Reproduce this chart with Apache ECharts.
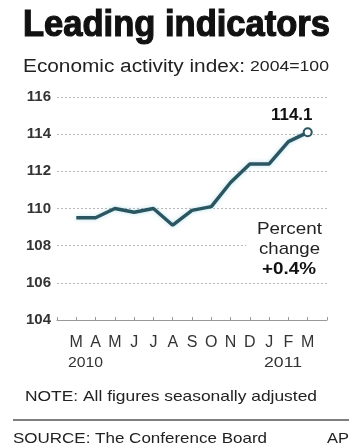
<!DOCTYPE html>
<html>
<head>
<meta charset="utf-8">
<script src="https://cdn.jsdelivr.net/npm/echarts@6/dist/echarts.min.js"></script>
<style>
html,body{margin:0;padding:0;background:#fff;}
#chart{width:357px;height:447px;}
</style>
</head>
<body>
<div id="chart"></div>
<script>
// Data
const months = ['M','A','M','J','J','A','S','O','N','D','J','F','M'];
const values = [109.5, 109.5, 110.0, 109.8, 110.0, 109.1, 109.9, 110.1, 111.4, 112.4, 112.4, 113.6, 114.1];
const yTicks = [104, 106, 108, 110, 112, 114, 116];
const years = ['2010', '2011'];

const chart = echarts.init(document.getElementById('chart'));
const lineColor = '#2b5561';
const sansName = '"Liberation Sans", Arial, sans-serif';

const ctx = document.createElement('canvas').getContext('2d');
function fitText(text, font, x, y, width, fill, extra) {
  ctx.font = font;
  const w = ctx.measureText(text).width;
  return {
    type: 'text', x: x, y: y, scaleX: width / w, originX: 0, originY: 0, z: 20, zlevel: 0,
    style: Object.assign({ text: text, font: font, fill: fill || '#222', verticalAlign: 'middle', align: 'left' }, extra || {})
  };
}

const seriesData = values.map((v, i) => {
  const last = i === values.length - 1;
  return {
    value: [i, v],
    symbol: last ? 'circle' : 'none',
    symbolSize: last ? 8 : 0,
    itemStyle: last ? { color: '#fff', borderColor: lineColor, borderWidth: 2 } : undefined,
    label: last ? {
      show: true, position: 'top', offset: [-16, 2],
      formatter: String(v), fontFamily: sansName, fontWeight: 'bold', fontSize: 17, color: '#111'
    } : { show: false }
  };
});

const subA = 'Economic activity index:';
const subB = '2004=100';

chart.setOption({
  backgroundColor: '#fff',
  animation: false,
  grid: { left: 57, right: 30, top: 97, bottom: 127 },
  xAxis: {
    type: 'value', min: -1, max: 13, interval: 1,
    axisLine: { show: true, lineStyle: { color: '#999', width: 1 } },
    axisTick: { show: true, inside: true, length: 3, lineStyle: { color: '#999' } },
    splitLine: { show: false },
    axisLabel: {
      margin: 15, fontFamily: sansName, fontSize: 16, color: '#333',
      formatter: v => (v >= 0 && v < months.length && Number.isInteger(v)) ? months[v] : ''
    }
  },
  yAxis: {
    type: 'value', min: yTicks[0], max: yTicks[yTicks.length - 1], interval: 2,
    axisLine: { show: false }, axisTick: { show: false },
    axisLabel: { margin: 6, fontFamily: sansName, fontSize: 15, color: '#333', fontWeight: 'bold' },
    splitLine: { show: true, lineStyle: { color: '#b8b8b8', type: [2, 2], width: 1 } }
  },
  series: [{
    type: 'line', data: seriesData, z: 5,
    lineStyle: { color: lineColor, width: 3.5, shadowColor: 'rgba(120,200,220,0.5)', shadowBlur: 4 },
    symbol: 'none'
  }],
  graphic: [
    fitText('Leading indicators', 'bold 36px ' + sansName, 23, 26, 307, '#111', { stroke: '#111', lineWidth: 1.2 }),
    fitText(subA, '18px ' + sansName, 23, 67, 222, '#222'),
    fitText(subB, '15px ' + sansName, 250, 67, 79, '#222'),
    { type: 'rect', z: 15, shape: { x: 246, y: 215, width: 84, height: 64 }, style: { fill: '#fff' } },
    fitText('Percent', '17px ' + sansName, 257, 229, 65, '#222'),
    fitText('change', '17px ' + sansName, 259, 249, 61, '#222'),
    fitText('+0.4%', 'bold 17px ' + sansName, 262, 269, 54, '#111'),
    fitText(years[0], '15px ' + sansName, 68, 363, 35, '#333'),
    fitText(years[1], '15px ' + sansName, 264, 363, 38, '#333'),
    fitText('NOTE: All figures seasonally adjusted', '15px ' + sansName, 25, 397, 292, '#222'),
    { type: 'line', z: 15, shape: { x1: 13, y1: 420, x2: 349, y2: 420 }, style: { stroke: '#555', lineWidth: 1.5 } },
    fitText('SOURCE: The Conference Board', '15px ' + sansName, 13, 439, 254, '#222'),
    fitText('AP', '15px ' + sansName, 327, 439, 22, '#222')
  ]
});
</script>
</body>
</html>
